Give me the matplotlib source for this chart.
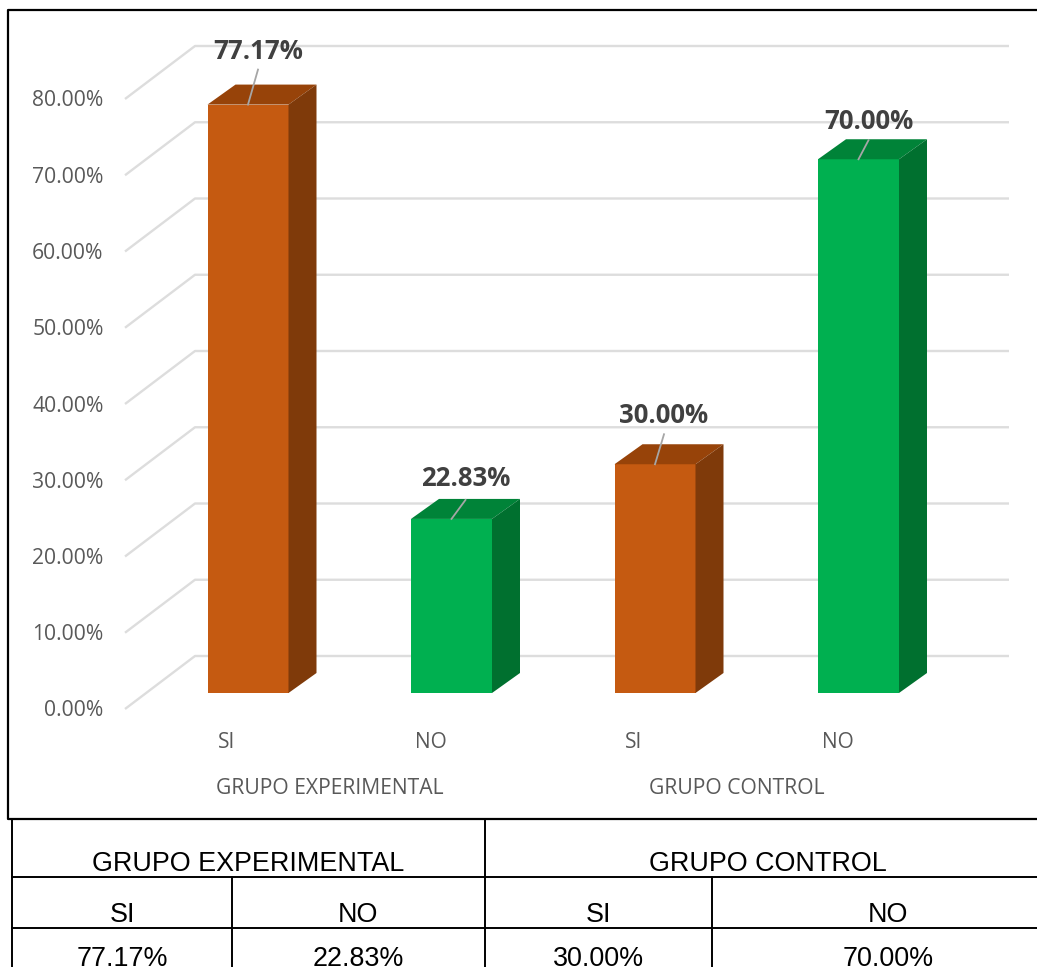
import matplotlib
matplotlib.use("Agg")
import matplotlib.pyplot as plt
from matplotlib.patches import Polygon

groups = ["GRUPO EXPERIMENTAL", "GRUPO CONTROL"]
categories = ["SI", "NO", "SI", "NO"]
values = [77.17, 22.83, 30.00, 70.00]
value_labels = ["77.17%", "22.83%", "30.00%", "70.00%"]
y_ticks = [0, 10, 20, 30, 40, 50, 60, 70, 80]

W, H = 1037, 967
X0, Y0 = 248, 693       # pixel of x=0, y=0 on the bar front
PX_X, PX_Y = 203.5, 7.625   # pixels per category and per percent
BAR_W = 81 / PX_X
DX, DY = 28 / PX_X, 20 / PX_Y

# data label placement, pixels from the bar's top centre
LABEL_DX = [10, 14, 9, 10]
LABEL_DY = [53, 40, 49, 38]
LEADER_DY = [35, 19, 30, 19]

ORANGE = ("#C55A11", "#974309", "#7F3A0A")
GREEN = ("#00B050", "#008338", "#00702F")
GRID = "#DDDDDD"
TICK = "#595959"

fig = plt.figure(figsize=(W / 100, H / 100), dpi=100)
ax = fig.add_axes([0, 0, 1, 1])
ax.set_xlim(-X0 / PX_X, (W - X0) / PX_X)
ax.set_ylim((Y0 - H) / PX_Y, Y0 / PX_Y)
ax.axis("off")

# pixel overlay for the frame and the table
frame = fig.add_axes([0, 0, 1, 1], zorder=5)
frame.set_xlim(0, W)
frame.set_ylim(H, 0)
frame.axis("off")
frame.patch.set_alpha(0)

# gridlines: floor/wall bend, then straight along the back wall
wall_x = [(125 - X0) / PX_X, (195 - X0) / PX_X, (1009 - X0) / PX_X]
for t in y_ticks:
    ys = [t - 16 / PX_Y, t + 37 / PX_Y, t + 37 / PX_Y]
    ax.plot(wall_x, ys, color=GRID, lw=1.7, zorder=1, solid_capstyle="butt")
    ax.text((103.5 - X0) / PX_X, t - 18 / PX_Y, f"{t:.2f}%", ha="right", va="center",
            fontsize=15.2, color=TICK, family="Open Sans")

# bars
for i, (v, lab, cat) in enumerate(zip(values, value_labels, categories)):
    front, top, side = ORANGE if i % 2 == 0 else GREEN
    l, r = i - BAR_W / 2, i + BAR_W / 2
    ax.add_patch(Polygon([(l, 0), (r, 0), (r, v), (l, v)], fc=front, ec="none", zorder=3))
    ax.add_patch(Polygon([(l, v), (r, v), (r + DX, v + DY), (l + DX, v + DY)], fc=top, ec="none", zorder=3))
    ax.add_patch(Polygon([(r, 0), (r + DX, DY), (r + DX, v + DY), (r, v)], fc=side, ec="none", zorder=3))
    lx = i + LABEL_DX[i] / PX_X
    ax.plot([i, lx], [v, v + LEADER_DY[i] / PX_Y], color="#A6A6A6", lw=1.3, zorder=4)
    ax.text(lx, v + LABEL_DY[i] / PX_Y, lab, ha="center", va="center", fontsize=18.5,
            fontweight="bold", color="#404040", family="Open Sans", zorder=5)
    ax.text(i - 21 / PX_X, -49 / PX_Y, cat, ha="center", va="center", fontsize=15,
            color=TICK, family="Open Sans")

for k, g in enumerate(groups):
    ax.text(0.5 + 2 * k - 20 / PX_X, -95 / PX_Y, g, ha="center", va="center", fontsize=15.2,
            color=TICK, family="Open Sans")

# chart border
frame.plot([W, 8, 8, W], [10, 10, 819, 819], color="black", lw=1.6)

# table
for y in [877, 928]:
    frame.plot([12, W], [y, y], color="black", lw=1.4)
for x in [12, 485]:
    frame.plot([x, x], [819, H], color="black", lw=1.4)
for x in [232, 712]:
    frame.plot([x, x], [877, H], color="black", lw=1.4)

cell_font = dict(ha="center", va="center", fontsize=19.4, color="black", family="Liberation Sans")
frame.text(248, 864, groups[0], **cell_font)
frame.text(768, 864, groups[1], **cell_font)
for x, cat, lab in zip([122, 358, 598, 888], categories, value_labels):
    frame.text(x, 915, cat, **cell_font)
    frame.text(x, 959, lab, **cell_font)

fig.savefig("out.png", dpi=100)
